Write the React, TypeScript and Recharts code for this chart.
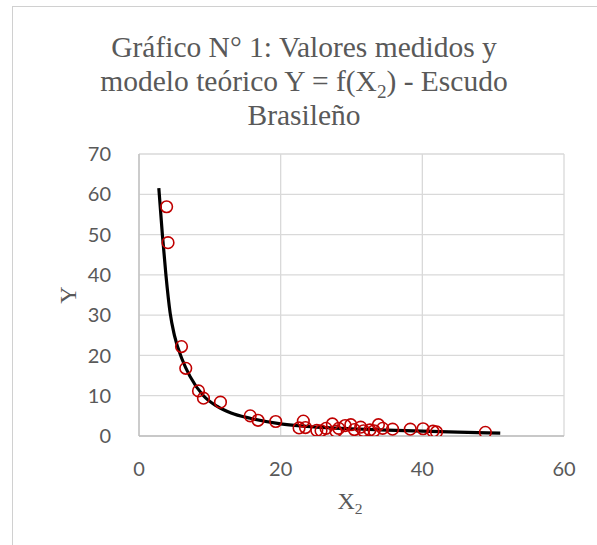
import React from 'react';
import {
  ComposedChart,
  Scatter,
  Line,
  XAxis,
  YAxis,
  CartesianGrid,
} from 'recharts';

const measuredX = [
  3.9, 4.1, 6.0, 6.6, 8.4, 9.1, 11.5, 15.7, 16.8, 19.3, 22.6, 23.2, 23.5, 25.1,
  25.7, 26.4, 27.3, 27.8, 28.2, 29.1, 29.9, 30.4, 31.3, 31.7, 32.6, 33.2, 33.8,
  34.4, 35.8, 38.3, 40.1, 41.5, 42.0, 48.9,
];
const measuredY = [
  56.9, 48.0, 22.2, 16.8, 11.2, 9.4, 8.4, 5.0, 3.9, 3.6, 2.0, 3.7, 2.1, 1.4,
  1.3, 1.9, 3.0, 1.2, 1.9, 2.6, 2.8, 1.6, 2.2, 1.3, 1.5, 1.3, 2.8,
  1.9, 1.7, 1.7, 1.8, 1.2, 1.0, 0.9,
];

// theoretical model curve, sampled along the drawn line
const modelX = [2.8, 3.3, 3.8, 4.4, 5.0, 6.1, 7.2, 9.1, 11, 13, 15.7, 20, 25, 30, 35, 40, 45, 51];
const modelY = [61.5, 50, 40, 30.5, 25, 19, 14.8, 10, 7.4, 5.7, 4.4, 3.0, 2.2, 1.8, 1.45, 1.2, 0.95, 0.7];

const xTicks = [0, 20, 40, 60];
const yTicks = [0, 10, 20, 30, 40, 50, 60, 70];

const measured = measuredX.map((x, i) => ({ x, y: measuredY[i] }));
const model = modelX.map((x, i) => ({ x, y: modelY[i] }));

const GREY = '#595959';

const OpenCircle = (props: any) => {
  const { cx, cy } = props;
  if (cx == null || cy == null) return null;
  return <circle cx={cx} cy={cy} r={5.8} fill="none" stroke="#c00000" strokeWidth={1.6} />;
};

const Sub = ({ children }: { children: React.ReactNode }) => (
  <span style={{ fontSize: '0.65em', position: 'relative', top: '0.35em', lineHeight: 0 }}>{children}</span>
);

if (typeof document !== 'undefined') document.body.style.margin = '0';

export default function App() {
  return (
    <div style={{ position: 'relative', width: 597, height: 545, overflow: 'hidden', background: '#fff' }}>
      {/* chart area frame: only its left and top edges fall inside the picture */}
      <div style={{ position: 'absolute', left: 12, top: 6, width: 1, height: 539, background: '#d0d0d0' }} />
      <div style={{ position: 'absolute', left: 12, top: 6, width: 585, height: 1, background: '#d0d0d0' }} />
      <div
        style={{
          position: 'absolute',
          left: 0,
          top: 30,
          width: 608,
          textAlign: 'center',
          fontFamily: '"Liberation Serif", serif',
          fontSize: 29.5,
          lineHeight: '34px',
          color: GREY,
        }}
      >
        Gráfico N° 1: Valores medidos y
        <br />
        modelo teórico Y = f(X<Sub>2</Sub>) - Escudo
        <br />
        Brasileño
      </div>
      <div
        style={{
          position: 'absolute',
          left: 56,
          top: 281,
          width: 24,
          textAlign: 'center',
          transform: 'rotate(-90deg)',
          fontFamily: '"Liberation Serif", serif',
          fontSize: 24,
          lineHeight: '28px',
          color: GREY,
        }}
      >
        Y
      </div>
      <div
        style={{
          position: 'absolute',
          left: 300,
          top: 487,
          width: 100,
          textAlign: 'center',
          fontFamily: '"Liberation Serif", serif',
          fontSize: 24,
          lineHeight: '28px',
          color: GREY,
        }}
      >
        X<Sub>2</Sub>
      </div>
      <div style={{ position: 'absolute', left: 0, top: 0 }}>
        <ComposedChart width={597} height={545} margin={{ top: 154, right: 33, left: 79, bottom: 49 }}>
          <CartesianGrid stroke="#d9d9d9" strokeWidth={1.3} />
          <XAxis
            type="number"
            dataKey="x"
            domain={[0, 60]}
            ticks={xTicks}
            height={60}
            tickLine={false}
            axisLine={{ stroke: '#bfbfbf', strokeWidth: 1.3 }}
            tick={{ fill: GREY, fontSize: 20, fontFamily: 'Lato, sans-serif' }}
            tickMargin={20}
            allowDataOverflow
          />
          <YAxis
            type="number"
            dataKey="y"
            domain={[0, 70]}
            ticks={yTicks}
            width={60}
            tickLine={false}
            axisLine={{ stroke: '#bfbfbf', strokeWidth: 1.3 }}
            tick={{ fill: GREY, fontSize: 20, fontFamily: 'Lato, sans-serif' }}
            tickMargin={22}
            allowDataOverflow
          />
          <Scatter data={measured} dataKey="y" shape={OpenCircle} isAnimationActive={false} />
          <Line
            data={model}
            dataKey="y"
            type="monotone"
            stroke="#000"
            strokeWidth={3.2}
            dot={false}
            activeDot={false}
            isAnimationActive={false}
          />
        </ComposedChart>
      </div>
    </div>
  );
}
